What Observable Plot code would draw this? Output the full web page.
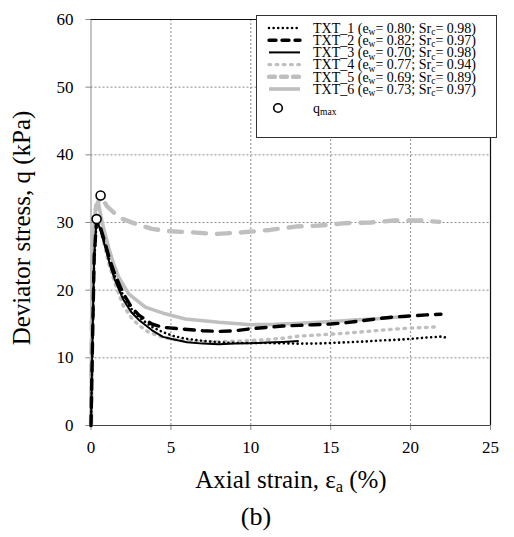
<!DOCTYPE html>
<html>
<head>
<meta charset="utf-8">
<script src="https://cdn.jsdelivr.net/npm/d3@7"></script>
<script src="https://cdn.jsdelivr.net/npm/@observablehq/plot@0.6"></script>
<style>
  html, body { margin: 0; padding: 0; background: #fff; }
  #wrap { position: relative; width: 514px; height: 537px; font-family: "Liberation Serif", "Times New Roman", serif; color: #000; overflow: hidden; }
  #wrap svg { position: absolute; }
  .lab { position: absolute; white-space: nowrap; line-height: 1; transform: translate(-50%, -50%); font-size: 25px; }
  .lab sub { font-size: 0.66em; vertical-align: -0.28em; line-height: 0; }
</style>
</head>
<body>
<div id="wrap"></div>
<script>
// ---- data ----
const seriesNames = ["TXT_1", "TXT_2", "TXT_3", "TXT_4", "TXT_5", "TXT_6"];
const ewValues = ["0.80", "0.82", "0.70", "0.77", "0.69", "0.73"];
const srcValues = ["0.98", "0.97", "0.98", "0.94", "0.89", "0.97"];

const txt1X = [0, 0.1, 0.2, 0.35, 0.6, 0.9, 1.2, 1.5, 2.0, 2.5, 3.0, 3.8, 4.5, 5.2, 6.0, 7.0, 8.0, 9.0, 10, 11, 12, 13, 14, 15, 16, 17, 18, 19, 20, 21, 22, 22.3];
const txt1Q = [0, 12, 24, 30.2, 29, 26.5, 24, 22, 19.3, 17.3, 16, 14.6, 13.8, 13.2, 12.8, 12.5, 12.3, 12.2, 12.2, 12.2, 12.15, 12.1, 12.1, 12.2, 12.3, 12.4, 12.55, 12.65, 12.8, 13.0, 13.15, 12.9];

const txt2X = [0, 0.1, 0.2, 0.35, 0.6, 0.9, 1.2, 1.5, 2, 2.5, 3, 3.8, 4.5, 5.5, 7, 8, 9, 10, 11, 12, 13, 14, 15, 16, 17, 18, 19, 20, 21, 21.9];
const txt2Q = [0, 13, 25, 30.4, 29.2, 26.8, 24.3, 22.3, 19.6, 17.6, 16.3, 15.0, 14.5, 14.3, 14.0, 13.9, 14.0, 14.3, 14.5, 14.7, 14.8, 14.9, 15.0, 15.2, 15.5, 15.8, 16.05, 16.2, 16.35, 16.45];

const txt3X = [0, 0.1, 0.2, 0.35, 0.6, 0.9, 1.2, 1.5, 2.0, 2.5, 3.0, 3.8, 4.5, 5.2, 6.0, 7.0, 8.0, 9.0, 10.0, 11.0, 12.0, 13.0];
const txt3Q = [0, 14, 25, 30.5, 28.8, 26.3, 23.6, 21.5, 18.7, 16.8, 15.6, 14.1, 13.1, 12.7, 12.3, 12.1, 12.0, 12.1, 12.15, 12.25, 12.35, 12.5];

const txt4X = [0, 0.05, 0.15, 0.3, 0.5, 0.8, 1.1, 1.5, 2.0, 2.5, 3.0, 3.6, 4.3, 5, 6, 7, 8, 9, 10, 11, 12, 13, 14, 15, 16, 17, 18, 19, 20, 21, 21.8];
const txt4Q = [0, 15, 27, 31.5, 30, 27, 24, 21, 17.8, 16, 14.8, 13.8, 13.2, 12.8, 12.5, 12.4, 12.4, 12.45, 12.55, 12.7, 12.9, 13.2, 13.35, 13.5, 13.65, 13.85, 14.05, 14.25, 14.4, 14.5, 14.6];

const txt5X = [0, 0.05, 0.15, 0.3, 0.6, 1.0, 1.5, 2.0, 2.8, 3.8, 5.0, 6.3, 7.8, 9.5, 11.2, 12.8, 14.3, 15.9, 17.5, 19.0, 20.6, 21.8];
const txt5Q = [0, 14, 27, 32, 34, 32.4, 31.3, 30.5, 29.8, 29.05, 28.7, 28.55, 28.3, 28.55, 28.9, 29.4, 29.55, 29.9, 30.0, 30.3, 30.3, 30.1];

const txt6X = [0, 0.05, 0.15, 0.3, 0.45, 0.7, 1.1, 1.4, 1.74, 2.36, 3.4, 4.65, 5.9, 8.0, 10, 11.5, 13.1, 14.5, 15.6, 16.4, 17.7, 18.8, 19.8];
const txt6Q = [0, 16, 28, 32.5, 33, 30, 26.3, 24, 21.9, 19.45, 17.5, 16.5, 15.75, 15.25, 14.9, 14.95, 15.1, 15.3, 15.45, 15.6, 15.75, 15.95, 16.1];

const qmaxX = [0.35, 0.6];
const qmaxQ = [30.5, 34.0];

const xTicks = [0, 5, 10, 15, 20, 25];
const yTicks = [0, 10, 20, 30, 40, 50, 60];

// ---- styles per series ----
const styles = {
  TXT_1: {stroke: "#000", strokeWidth: 2.6, dash: "0.01 4.6", cap: "round"},
  TXT_2: {stroke: "#000", strokeWidth: 3.4, dash: "10 8", cap: "round"},
  TXT_3: {stroke: "#000", strokeWidth: 2, cap: "butt"},
  TXT_4: {stroke: "#bfbfbf", strokeWidth: 3.4, dash: "1.6 5.6", cap: "round"},
  TXT_5: {stroke: "#bfbfbf", strokeWidth: 4.4, dash: "13 11", cap: "round"},
  TXT_6: {stroke: "#bfbfbf", strokeWidth: 3.6, cap: "butt"}
};

const seriesData = {
  TXT_1: [txt1X, txt1Q], TXT_2: [txt2X, txt2Q], TXT_3: [txt3X, txt3Q],
  TXT_4: [txt4X, txt4Q], TXT_5: [txt5X, txt5Q], TXT_6: [txt6X, txt6Q]
};
const toRows = (name) => seriesData[name][0].map((x, i) => ({x, q: seriesData[name][1][i]}));
const qmaxRows = qmaxX.map((x, i) => ({x, q: qmaxQ[i]}));

const drawOrder = ["TXT_4", "TXT_5", "TXT_6", "TXT_1", "TXT_2", "TXT_3"];
const lineMarks = drawOrder.map(name => Plot.line(toRows(name), {
  x: "x", y: "q",
  stroke: styles[name].stroke,
  strokeWidth: styles[name].strokeWidth,
  strokeDasharray: styles[name].dash || null,
  strokeLinecap: styles[name].cap,
  strokeLinejoin: "round"
}));

const chart = Plot.plot({
  width: 514,
  height: 460,
  marginTop: 19,
  marginBottom: 35,
  marginLeft: 90.5,
  marginRight: 24,
  style: {fontFamily: "Liberation Serif, Times New Roman, serif", fontSize: "17px", color: "#000", background: "transparent"},
  x: {domain: [0, 25]},
  y: {domain: [0, 60]},
  marks: [
    Plot.gridX(xTicks.slice(1, -1), {stroke: "#8c8c8c", strokeOpacity: 1, strokeDasharray: "2 2"}),
    Plot.gridY(yTicks.slice(1, -1), {stroke: "#8c8c8c", strokeOpacity: 1, strokeDasharray: "2 2"}),
    Plot.axisY(yTicks, {tickSize: 5, tickPadding: 12.5, stroke: "#888", fill: "#000", label: null, fontSize: 17}),
    Plot.axisX(xTicks, {tickSize: 5, tickPadding: 10, stroke: "#888", fill: "#000", label: null, fontSize: 17}),
    Plot.ruleX([0], {stroke: "#888", strokeWidth: 1}),
    Plot.ruleY([0], {stroke: "#444", strokeWidth: 1}),
    Plot.ruleY([60], {stroke: "#111", strokeWidth: 1.2}),
    Plot.ruleX([25], {stroke: "#111", strokeWidth: 1.2}),
    ...lineMarks,
    Plot.dot(qmaxRows, {x: "x", y: "q", r: 4.5, fill: "#fff", stroke: "#000", strokeWidth: 1.6})
  ]
});
chart.style.left = "0px";
chart.style.top = "0px";

const wrap = document.getElementById("wrap");
wrap.appendChild(chart);

// axis labels
function addLabel(html, left, top, rotate, size) {
  const d = document.createElement("div");
  d.className = "lab";
  d.innerHTML = html;
  d.style.left = left + "px";
  d.style.top = top + "px";
  if (size) d.style.fontSize = size + "px";
  if (rotate) d.style.transform = "translate(-50%, -50%) rotate(-90deg)";
  wrap.appendChild(d);
}
addLabel("Deviator stress, q (kPa)", 21, 228, true, 25);
addLabel("Axial strain, &epsilon;<sub>a</sub> (%)", 291, 479, false, 25);
addLabel("(b)", 256, 517, false, 26);

// legend (SVG)
const legW = 241, legH = 123;
const leg = d3.create("svg")
  .attr("width", legW).attr("height", legH)
  .style("left", "256px").style("top", "15px")
  .style("font-family", "Liberation Serif, Times New Roman, serif");
leg.append("rect").attr("x", 0.5).attr("y", 0.5).attr("width", legW - 1).attr("height", legH - 1)
  .attr("fill", "#fff").attr("stroke", "#333").attr("stroke-width", 1);
const rowY = [13, 25.2, 37.4, 49.6, 61.8, 74];
const fs = 14;
seriesNames.forEach((name, i) => {
  const st = styles[name];
  const y = rowY[i];
  leg.append("line").attr("x1", 13).attr("x2", 44).attr("y1", y).attr("y2", y)
    .attr("stroke", st.stroke).attr("stroke-width", st.strokeWidth)
    .attr("stroke-dasharray", st.dash ? (name === "TXT_5" ? "6 6" : name === "TXT_2" ? "7 6" : st.dash) : null)
    .attr("stroke-linecap", st.cap);
  const t = leg.append("text").attr("x", 57).attr("y", y).attr("dy", "0.34em")
    .attr("font-size", fs).attr("fill", "#000");
  t.append("tspan").text(`${name} (e`);
  t.append("tspan").attr("dy", 2.5).attr("font-size", fs * 0.68).text("w");
  t.append("tspan").attr("dy", -2.5).text(`= ${ewValues[i]}; Sr`);
  t.append("tspan").attr("dy", 2.5).attr("font-size", fs * 0.68).text("c");
  t.append("tspan").attr("dy", -2.5).text(`= ${srcValues[i]})`);
});
leg.append("circle").attr("cx", 22).attr("cy", 93).attr("r", 4.3)
  .attr("fill", "#fff").attr("stroke", "#000").attr("stroke-width", 1.6);
{
  const t = leg.append("text").attr("x", 57).attr("y", 93).attr("dy", "0.34em")
    .attr("font-size", fs).attr("fill", "#000");
  t.append("tspan").text("q");
  t.append("tspan").attr("dy", 2.5).attr("font-size", fs * 0.68).text("max");
}
wrap.appendChild(leg.node());
</script>
</body>
</html>
